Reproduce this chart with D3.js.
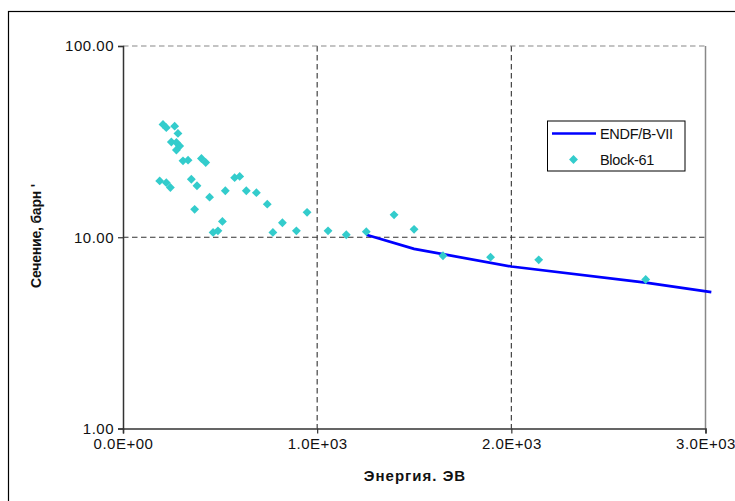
<!DOCTYPE html>
<html>
<head>
<meta charset="utf-8">
<script src="https://cdn.jsdelivr.net/npm/d3@7"></script>
<style>
  body { margin: 0; background: #fff; }
  text { font-family: "Liberation Sans", Arial, sans-serif; }
</style>
</head>
<body>
<div id="chart"></div>
<script>
// Measured cross sections (Block-61) and evaluated curve (ENDF/B-VII)
var blockEnergy = [206, 223, 266, 283, 249, 275, 292, 275, 309, 335, 404, 426,
  189, 223, 244, 352, 381, 369, 446, 527, 575, 601, 635, 687, 743,
  464, 489, 512, 772, 821, 893, 948, 1056, 1150, 1253, 1396, 1499,
  1648, 1893, 2141, 2692];
var blockSigma = [38.9, 37.4, 38.1, 34.9, 31.5, 31.3, 30.0, 28.6, 25.1, 25.3, 25.8, 24.6,
  19.7, 19.3, 18.2, 20.1, 18.6, 14.0, 16.2, 17.5, 20.5, 20.8, 17.5, 17.1, 14.9,
  10.6, 10.8, 12.1, 10.6, 11.9, 10.8, 13.5, 10.8, 10.3, 10.7, 13.1, 11.0,
  8.0, 7.87, 7.62, 6.01];

var endfEnergy = [1253, 1499, 2000, 2692, 3030];
var endfSigma = [10.3, 8.69, 7.03, 5.79, 5.17];

var xTicks = [0, 1000, 2000, 3000];
var xTickLabels = ["0.0E+00", "1.0E+03", "2.0E+03", "3.0E+03"];
var yTicks = [1, 10, 100];
var yTickLabels = ["1.00", "10.00", "100.00"];

var seriesNames = ["ENDF/B-VII", "Block-61"];

var svgWidth = 735;
var svgHeight = 501;
var margin = { top: 46, right: 30, bottom: 72, left: 123 };
var width = 705.5 - margin.left;
var height = 428.5 - margin.top;

var svg = d3.select("#chart")
  .append("svg")
  .attr("width", svgWidth)
  .attr("height", svgHeight);

// outer chart frame (runs off the right and bottom edge)
svg.append("rect")
  .attr("x", 8.5)
  .attr("y", 11.5)
  .attr("width", 760)
  .attr("height", 520)
  .attr("fill", "none")
  .attr("stroke", "#000")
  .attr("stroke-width", 1.2);

var chartGroup = svg.append("g")
  .attr("transform", `translate(${margin.left}, ${margin.top})`);

var x = d3.scaleLinear().domain([0, 3000]).range([0, width]);
var y = d3.scaleLog().domain([1, 100]).range([height, 0]);

// gridlines
chartGroup.append("g")
  .selectAll("line")
  .data(xTicks.slice(1, 3))
  .enter()
  .append("line")
  .attr("x1", d => x(d)).attr("x2", d => x(d))
  .attr("y1", 0).attr("y2", height)
  .attr("stroke", "#333")
  .attr("stroke-width", 1.1)
  .attr("stroke-dasharray", "5.5,3.5");

chartGroup.append("g")
  .selectAll("line")
  .data([10])
  .enter()
  .append("line")
  .attr("x1", 0).attr("x2", width)
  .attr("y1", d => y(d)).attr("y2", d => y(d))
  .attr("stroke", "#333")
  .attr("stroke-width", 1.1)
  .attr("stroke-dasharray", "5.5,3.5");

// plot area border: top dashed, right solid gray
chartGroup.append("line")
  .attr("x1", 0).attr("x2", width)
  .attr("y1", y(100)).attr("y2", y(100))
  .attr("stroke", "#888")
  .attr("stroke-width", 1.2)
  .attr("stroke-dasharray", "5.5,3.5");
chartGroup.append("line")
  .attr("x1", width).attr("x2", width)
  .attr("y1", 0).attr("y2", height)
  .attr("stroke", "#888")
  .attr("stroke-width", 1.5);

// axes
var bottomAxis = d3.axisBottom(x)
  .tickValues(xTicks)
  .tickSize(5)
  .tickFormat((d, i) => xTickLabels[i]);
var leftAxis = d3.axisLeft(y)
  .tickValues(yTicks)
  .tickSize(5)
  .tickFormat((d, i) => yTickLabels[i]);

var xAxisG = chartGroup.append("g")
  .attr("transform", `translate(0, ${height})`)
  .call(bottomAxis);
var yAxisG = chartGroup.append("g")
  .call(leftAxis);

[xAxisG, yAxisG].forEach(function (g) {
  g.select(".domain").attr("stroke", "#333").attr("stroke-width", 1.5);
  g.selectAll(".tick line").attr("stroke", "#333").attr("stroke-width", 1.2);
  g.selectAll(".tick text")
    .attr("font-family", "Liberation Sans, Arial, sans-serif")
    .attr("font-size", "15px")
    .attr("letter-spacing", "0.5px")
    .attr("fill", "#111");
});
xAxisG.selectAll(".tick text").attr("y", 10);
yAxisG.selectAll(".tick text").attr("x", -9);

// ENDF/B-VII line
var line = d3.line()
  .x(d => x(d[0]))
  .y(d => y(d[1]));
chartGroup.append("path")
  .datum(endfEnergy.map((e, i) => [e, endfSigma[i]]))
  .attr("d", line)
  .attr("fill", "none")
  .attr("stroke", "#0000ff")
  .attr("stroke-width", 2.7);

// Block-61 diamonds
var diamond = d3.symbol().type(d3.symbolDiamond2).size(50);
chartGroup.selectAll(".pt")
  .data(blockEnergy.map((e, i) => [e, blockSigma[i]]))
  .enter()
  .append("path")
  .attr("class", "pt")
  .attr("d", diamond)
  .attr("transform", d => `translate(${x(d[0])}, ${y(d[1])})`)
  .attr("fill", "#33cccc");

// legend
var legend = svg.append("g");
legend.append("rect")
  .attr("x", 547.5).attr("y", 121)
  .attr("width", 137.5).attr("height", 50)
  .attr("fill", "#fff")
  .attr("stroke", "#000")
  .attr("stroke-width", 1);
legend.append("line")
  .attr("x1", 552).attr("x2", 596)
  .attr("y1", 133.5).attr("y2", 133.5)
  .attr("stroke", "#0000ff")
  .attr("stroke-width", 2.7);
legend.append("path")
  .attr("d", diamond)
  .attr("transform", "translate(573.5, 159.5)")
  .attr("fill", "#33cccc");
legend.selectAll(".lt")
  .data(seriesNames)
  .enter()
  .append("text")
  .attr("class", "lt")
  .attr("x", 600)
  .attr("y", (d, i) => 133.5 + i * 26)
  .attr("dy", "0.36em")
  .attr("font-size", "14.5px")
  .attr("letter-spacing", "-0.3px")
  .attr("fill", "#111")
  .text(d => d);

// axis titles
svg.append("text")
  .attr("x", 415)
  .attr("y", 481)
  .attr("text-anchor", "middle")
  .attr("font-size", "15px")
  .attr("font-weight", "bold")
  .attr("letter-spacing", "1px")
  .attr("fill", "#111")
  .text("Энергия. ЭВ");

svg.append("text")
  .attr("transform", "translate(41, 236) rotate(-90)")
  .attr("text-anchor", "middle")
  .attr("font-size", "14px")
  .attr("font-weight", "bold")
  .attr("letter-spacing", "-0.2px")
  .attr("fill", "#111")
  .text("Сечение, барн '");
</script>
</body>
</html>
